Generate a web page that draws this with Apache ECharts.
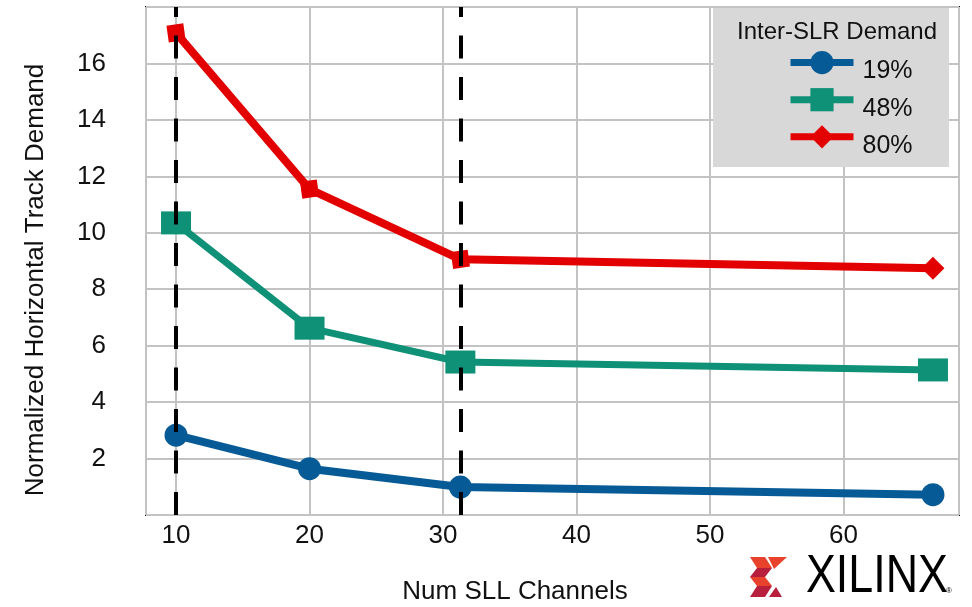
<!DOCTYPE html>
<html>
<head>
<meta charset="utf-8">
<script src="https://cdn.jsdelivr.net/npm/echarts@6/dist/echarts.min.js"></script>
<style>
html,body{margin:0;padding:0;background:#fff;}
#chart{width:972px;height:607px;}
</style>
</head>
<body>
<div id="chart"></div>
<script>
// ---- data ----
var channels = [10, 20, 31.3, 66.7];
var seriesNames = ['19%', '48%', '80%'];
var demand19 = [2.83, 1.64, 0.99, 0.72];
var demand48 = [10.35, 6.62, 5.42, 5.14];
var demand80 = [17.08, 11.55, 9.06, 8.74];
var markerChannels = [10, 31.3];
var xTitle = 'Num SLL Channels';
var yTitle = 'Normalized Horizontal Track Demand';
var legendTitle = 'Inter-SLR Demand';
var logoText = 'XILINX';

var FONT = "'Liberation Sans', Arial, Helvetica, sans-serif";
var BLUE = '#065a96', GREEN = '#0e9176', RED = '#e30000';

function pairs(ys) { return channels.map(function (x, i) { return [x, ys[i]]; }); }

var redData = pairs(demand80).map(function (p, i) {
  if (i < channels.length - 1) {
    return { value: p, symbol: 'rect', symbolSize: 17, symbolRotate: 8 };
  }
  return { value: p };
});

var chart = echarts.init(document.getElementById('chart'), null, { renderer: 'canvas' });

var L = 750, T = 557; // logo origin
function poly(pts, color) {
  return { type: 'polygon', shape: { points: pts.map(function (p) { return [L + p[0], T + p[1]]; }) }, style: { fill: color }, z: 10 };
}
var OR = '#e8412c', DK = '#b71f3d';

chart.setOption({
  animation: false,
  backgroundColor: '#fff',
  grid: { left: 146, right: 13, top: 7, bottom: 92, show: true, borderColor: '#111', borderWidth: 2, containLabel: false },
  xAxis: {
    type: 'value', min: 7.75, max: 68.65, splitNumber: 6,
    axisLine: { show: false }, axisTick: { show: false },
    axisLabel: { fontFamily: FONT, fontSize: 26, color: '#111', margin: 8, showMinLabel: false, showMaxLabel: false },
    splitLine: { show: true, lineStyle: { color: '#c3c3c3', width: 2 } }
  },
  yAxis: {
    type: 'value', min: 0, max: 18, interval: 2,
    axisLine: { show: false }, axisTick: { show: false },
    axisLabel: { fontFamily: FONT, fontSize: 26, color: '#111', margin: 40, showMinLabel: false, showMaxLabel: false },
    splitLine: { show: true, lineStyle: { color: '#c3c3c3', width: 2 } }
  },
  legend: {
    orient: 'vertical', left: 782, top: 46, itemWidth: 63, itemHeight: 29, itemGap: 4,
    data: seriesNames, z: 6,
    lineStyle: { width: 7 },
    formatter: '{t|{name}}',
    textStyle: { fontFamily: FONT, fontSize: 25, color: '#111',
      rich: { t: { fontFamily: FONT, fontSize: 25, color: '#111', padding: [18, 0, 0, 4] } } }
  },
  graphic: [
    { type: 'rect', shape: { x: 713, y: 8, width: 236, height: 159 }, style: { fill: '#d8d8d8' }, z: 5 },
    { type: 'text', x: 837, y: 32, z: 6, style: { text: legendTitle, fontFamily: FONT, fontSize: 24, fill: '#111', align: 'center', verticalAlign: 'middle' } },
    { type: 'text', x: 515, y: 592, style: { text: xTitle, fontFamily: FONT, fontSize: 26, fill: '#111', align: 'center', verticalAlign: 'middle' } },
    { type: 'text', x: 36, y: 280, rotation: Math.PI / 2, style: { text: yTitle, fontFamily: FONT, fontSize: 26, fill: '#111', align: 'center', verticalAlign: 'middle' } },
    { type: 'text', x: 806, y: 577, scaleX: 0.845, z: 10, style: { text: logoText, fontFamily: FONT, fontSize: 53, fill: '#000', align: 'left', verticalAlign: 'middle' } },
    { type: 'text', x: 949, y: 591, z: 10, style: { text: '\u00ae', fontFamily: FONT, fontSize: 8, fill: '#000', align: 'center', verticalAlign: 'middle' } },
    poly([[0, 0], [15, 0], [22, 11], [7, 11]], OR),
    poly([[7, 11], [22, 11], [15, 20], [0, 20]], DK),
    poly([[0, 20], [15, 20], [22, 29], [7, 29]], OR),
    poly([[7, 29], [22, 29], [15, 40], [0, 40]], DK),
    poly([[18, 0], [37, 0], [24, 12]], OR),
    poly([[19, 40], [32, 40], [26, 30]], DK)
  ],
  series: [
    {
      name: 'markers', type: 'line', data: [], z: 1, silent: true,
      markLine: {
        silent: true, symbol: 'none', animation: false,
        label: { show: false },
        lineStyle: { color: '#000', width: 4, type: [23, 18.5] },
        data: markerChannels.map(function (x) { return { xAxis: x }; })
      }
    },
    {
      name: seriesNames[0], type: 'line', data: pairs(demand19), z: 3,
      symbol: 'circle', symbolSize: 23,
      lineStyle: { color: BLUE, width: 8 }, itemStyle: { color: BLUE }
    },
    {
      name: seriesNames[1], type: 'line', data: pairs(demand48), z: 3,
      symbol: 'rect', symbolSize: [30, 23],
      lineStyle: { color: GREEN, width: 7 }, itemStyle: { color: GREEN }
    },
    {
      name: seriesNames[2], type: 'line', data: redData, z: 3,
      symbol: 'diamond', symbolSize: 23,
      lineStyle: { color: RED, width: 8 }, itemStyle: { color: RED }
    }
  ]
});
</script>
</body>
</html>
